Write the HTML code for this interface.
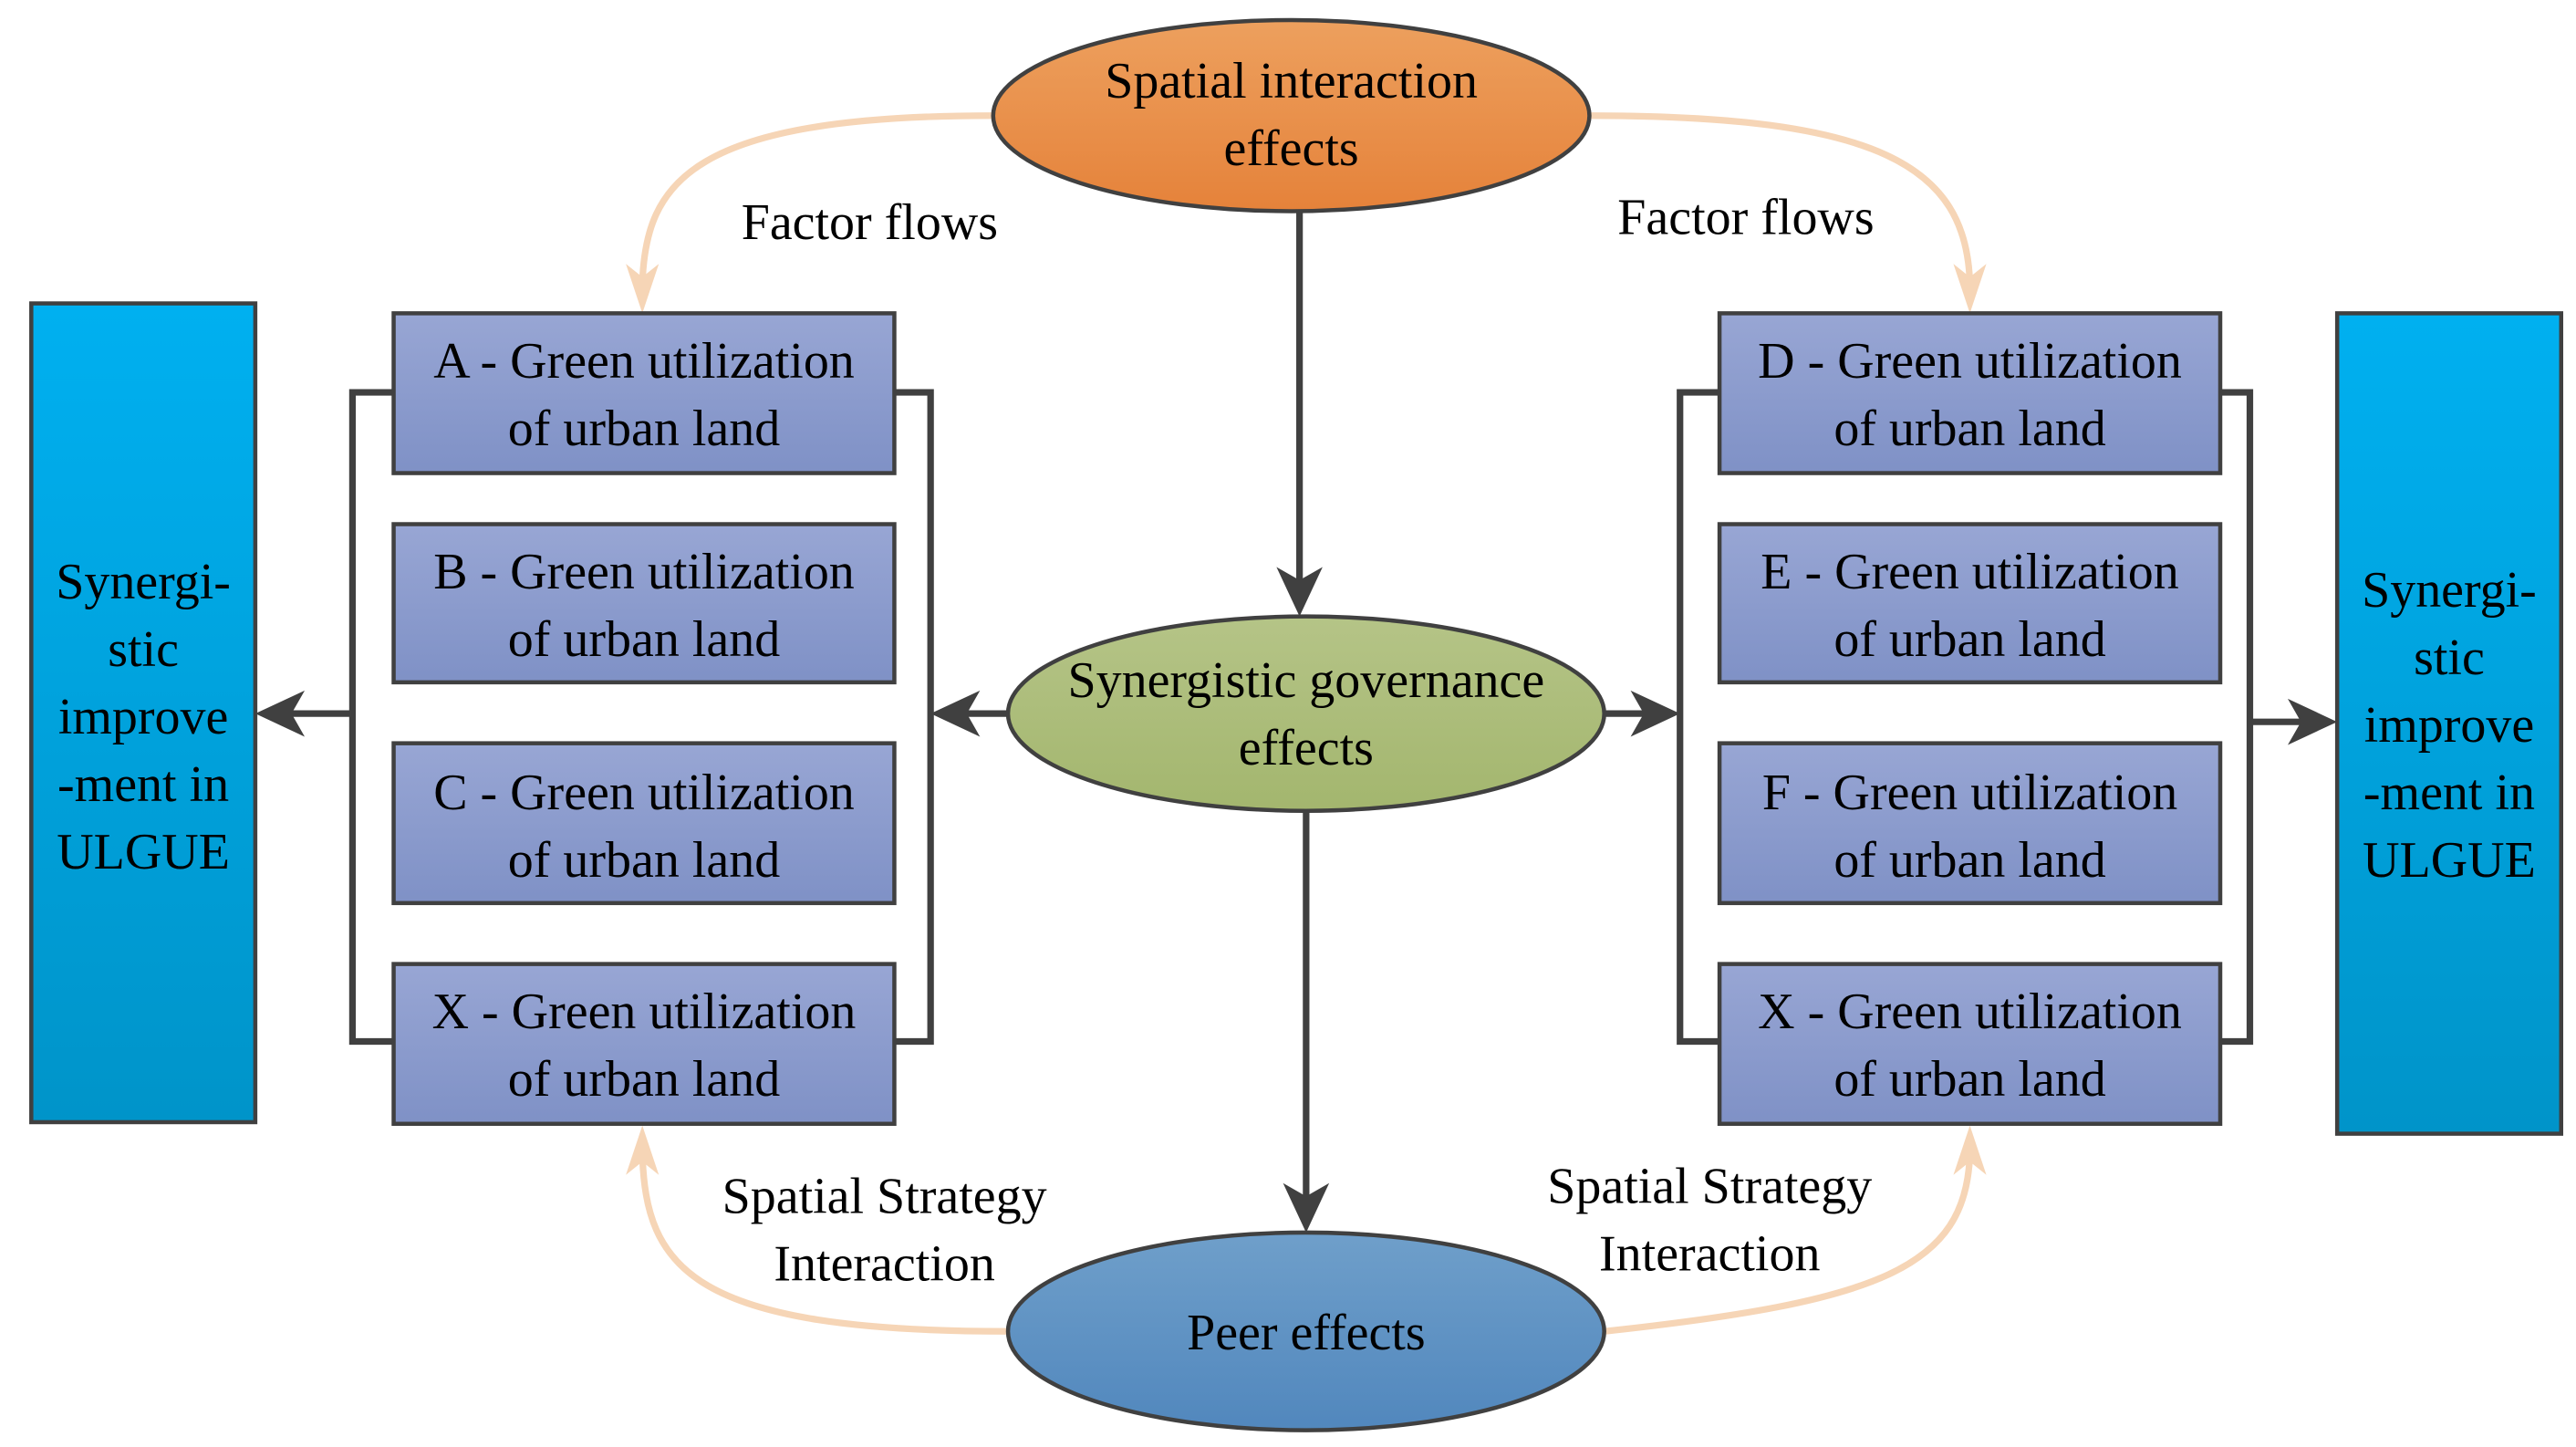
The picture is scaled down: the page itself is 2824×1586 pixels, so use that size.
<!DOCTYPE html>
<html><head><meta charset="utf-8"><style>
html,body{margin:0;padding:0;background:#fff;}
svg{display:block;}
text{font-family:"Liberation Serif",serif;font-size:31px;fill:#000;text-anchor:middle;}
</style></head><body>
<svg width="2824" height="1586" viewBox="0 0 1564 878" xmlns="http://www.w3.org/2000/svg">
<defs>
<linearGradient id="gb" x1="0" y1="0" x2="0" y2="1"><stop offset="0" stop-color="#98a6d4"/><stop offset="1" stop-color="#7f91c6"/></linearGradient>
<linearGradient id="gc" x1="0" y1="0" x2="0" y2="1"><stop offset="0" stop-color="#00b0f0"/><stop offset="1" stop-color="#0094c9"/></linearGradient>
<linearGradient id="go" x1="0" y1="0" x2="0" y2="1"><stop offset="0" stop-color="#eda05e"/><stop offset="1" stop-color="#e5823a"/></linearGradient>
<linearGradient id="gg" x1="0" y1="0" x2="0" y2="1"><stop offset="0" stop-color="#b5c487"/><stop offset="1" stop-color="#a3b66e"/></linearGradient>
<linearGradient id="gp" x1="0" y1="0" x2="0" y2="1"><stop offset="0" stop-color="#6f9fca"/><stop offset="1" stop-color="#5187bd"/></linearGradient>
</defs>
<g fill="none" stroke="#f6d5b6" stroke-width="4">
<path d="M603 70 C420 70 392 110 390 172"/>
<path d="M965 70 C1140 70 1194 100 1196 172"/>
<path d="M612 808 C420 808 392 770 390 700"/>
<path d="M974 808 C1140 790 1194 770 1196 700"/>
</g>
<g fill="#f6d5b6">
<path d="M390 190 L380 160 L390 168 L400 160Z"/>
<path d="M1196 190 L1186 160 L1196 168 L1206 160Z"/>
<path d="M390 683 L380 713 L390 705 L400 713Z"/>
<path d="M1196 683 L1186 713 L1196 705 L1206 713Z"/>
</g>
<g stroke="#404040" stroke-width="4" fill="none">
<path d="M239 238 H214 V632 H239"/>
<path d="M543 238 H565 V632 H543"/>
<path d="M1044 238 H1020 V632 H1044"/>
<path d="M1348 238 H1366 V632 H1348"/>
<path d="M214 433 H175"/>
<path d="M612 433 H585"/>
<path d="M974 433 H1000"/>
<path d="M1366 438 H1400"/>
<path d="M789 128 V355"/>
<path d="M793 492 V728"/>
</g>
<g fill="#404040">
<path d="M155 433 L185 419 L177 433 L185 447Z"/>
<path d="M565 433 L595 419 L587 433 L595 447Z"/>
<path d="M1020 433 L990 419 L998 433 L990 447Z"/>
<path d="M1419 438 L1389 424 L1397 438 L1389 452Z"/>
<path d="M789 374 L775 344 L789 352 L803 344Z"/>
<path d="M793 748 L779 718 L793 726 L807 718Z"/>
</g>
<g stroke="#404040" stroke-width="2.5">
<rect x="19" y="184" width="136" height="497" fill="url(#gc)"/>
<rect x="1419" y="190" width="136" height="498" fill="url(#gc)"/>
<rect x="239" y="190" width="304" height="97" fill="url(#gb)"/>
<rect x="239" y="318" width="304" height="96" fill="url(#gb)"/>
<rect x="239" y="451" width="304" height="97" fill="url(#gb)"/>
<rect x="239" y="585" width="304" height="97" fill="url(#gb)"/>
<rect x="1044" y="190" width="304" height="97" fill="url(#gb)"/>
<rect x="1044" y="318" width="304" height="96" fill="url(#gb)"/>
<rect x="1044" y="451" width="304" height="97" fill="url(#gb)"/>
<rect x="1044" y="585" width="304" height="97" fill="url(#gb)"/>
<ellipse cx="784" cy="70" rx="181" ry="58" fill="url(#go)"/>
<ellipse cx="793" cy="433" rx="181" ry="59" fill="url(#gg)"/>
<ellipse cx="793" cy="808" rx="181" ry="60" fill="url(#gp)"/>
</g>
<text x="784" y="59">Spatial interaction</text><text x="784" y="100">effects</text>
<text x="793" y="423">Synergistic governance</text><text x="793" y="464">effects</text>
<text x="793" y="819">Peer effects</text>
<text x="528" y="145">Factor flows</text>
<text x="1060" y="142">Factor flows</text>
<text x="537" y="736">Spatial Strategy</text><text x="537" y="777">Interaction</text>
<text x="1038" y="730">Spatial Strategy</text><text x="1038" y="771">Interaction</text>
<text x="391" y="229">A - Green utilization</text><text x="391" y="270">of urban land</text>
<text x="391" y="357">B - Green utilization</text><text x="391" y="398">of urban land</text>
<text x="391" y="491">C - Green utilization</text><text x="391" y="532">of urban land</text>
<text x="391" y="624">X - Green utilization</text><text x="391" y="665">of urban land</text>
<text x="1196" y="229">D - Green utilization</text><text x="1196" y="270">of urban land</text>
<text x="1196" y="357">E - Green utilization</text><text x="1196" y="398">of urban land</text>
<text x="1196" y="491">F - Green utilization</text><text x="1196" y="532">of urban land</text>
<text x="1196" y="624">X - Green utilization</text><text x="1196" y="665">of urban land</text>
<g>
<text x="87" y="363">Synergi-</text><text x="87" y="404">stic</text><text x="87" y="445">improve</text><text x="87" y="486">-ment in</text><text x="87" y="527">ULGUE</text>
<text x="1487" y="368">Synergi-</text><text x="1487" y="409">stic</text><text x="1487" y="450">improve</text><text x="1487" y="491">-ment in</text><text x="1487" y="532">ULGUE</text>
</g>
</svg>
</body></html>
